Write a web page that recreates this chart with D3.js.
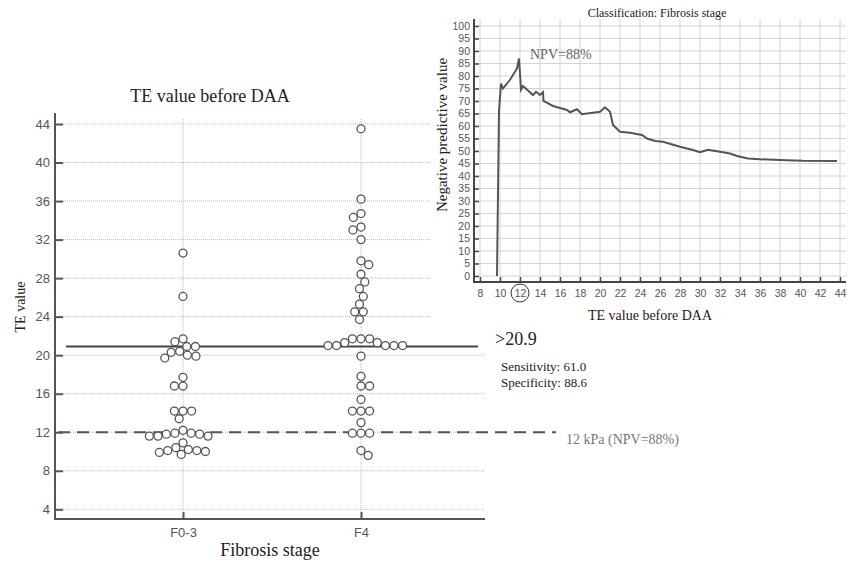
<!DOCTYPE html>
<html>
<head>
<meta charset="utf-8">
<title>TE value before DAA</title>
<script src="https://d3js.org/d3.v7.min.js"></script>
<style>
  body { margin: 0; background: #fff; }
  #chart { display: block; }
</style>
</head>
<body>
<svg id="chart"></svg>
<script>
// ---- left panel: TE values per fibrosis group (kPa) ----
const groups = ["F0-3", "F4"];
const teF03 = [30.6, 26.1, 21.7, 21.4, 20.9, 20.9, 20.4, 20.3, 20.0, 19.9, 19.7,
  17.7, 16.8, 16.8, 14.2, 14.2, 14.2, 13.4, 12.2, 11.6, 11.6, 11.6, 11.8, 11.8,
  11.9, 11.9, 10.9, 10.4, 9.7, 9.9, 10.0, 10.1, 10.1, 10.2];
const teF4 = [43.5, 36.2, 34.7, 34.3, 33.3, 33.0, 32.0, 29.8, 29.4, 28.4, 27.6,
  26.9, 26.1, 25.3, 24.5, 24.5, 23.7, 21.7, 21.7, 21.7, 21.0, 21.0, 21.0, 21.0,
  21.0, 21.3, 21.3, 19.9, 17.8, 16.8, 16.8, 15.4, 14.2, 14.2, 14.2, 13.0, 11.9,
  11.9, 11.9, 10.1, 9.6];
const yTicksLeft = [4, 8, 12, 16, 20, 24, 28, 32, 36, 40, 44];
const cutoffHigh = 20.9;
const cutoffLow = 12;

// ---- right panel: NPV by TE cut-off ----
const curveTE = [9.7, 9.9, 10.1, 10.3, 11.0, 11.7, 11.9, 12.0, 12.1, 12.3, 13.3,
  13.6, 14.0, 14.3, 14.35, 15.3, 16.7, 17.0, 17.7, 18.2, 20.0, 20.5, 21.0, 21.3,
  22.0, 23.0, 24.2, 24.7, 25.5, 26.3, 28.0, 29.3, 30.0, 30.8, 32.0, 33.0, 33.7,
  34.8, 36.0, 38.0, 40.3, 43.7];
const curveNPV = [0, 66, 77, 75, 78.5, 83, 87, 81, 74.5, 76, 72.4,
  73.7, 72.4, 73.5, 70, 68, 66.4, 65.5, 66.7, 64.7, 65.7, 67.5, 65.7, 60.4,
  57.7, 57.3, 56.4, 55, 54, 53.7, 51.7, 50.4, 49.5, 50.5, 49.7, 49, 48,
  47, 46.7, 46.4, 46.1, 46];
const xTicksRight = [8, 10, 12, 14, 16, 18, 20, 22, 24, 26, 28, 30, 32, 34, 36, 38, 40, 42, 44];
const yTicksRight = [0, 5, 10, 15, 20, 25, 30, 35, 40, 45, 50, 55, 60, 65, 70, 75, 80, 85, 90, 95, 100];

const W = 852, H = 562;
const serif = "'Liberation Serif', 'Times New Roman', serif";
const sans = "'Liberation Sans', Arial, sans-serif";
const narrow = "'Liberation Sans Narrow', 'Liberation Sans', Arial, sans-serif";

const svg = d3.select("#chart").attr("width", W).attr("height", H);
svg.append("rect").attr("width", W).attr("height", H).attr("fill", "#fff");

// ================= left panel =================
const axL = 55, axR = 485, axBottom = 519, axTop = 113;
const x = d3.scalePoint().domain(groups).range([183, 361]);
const y = d3.scaleLinear().domain([4, 44]).range([509.3, 124]);

const left = svg.append("g");

// grid
left.append("g").selectAll("line").data(yTicksLeft).join("line")
  .attr("x1", axL + 8).attr("x2", axR)
  .attr("y1", d => y(d)).attr("y2", d => y(d))
  .attr("stroke", "#bbb").attr("stroke-dasharray", "1,1");
left.append("g").selectAll("line").data(groups).join("line")
  .attr("x1", d => x(d)).attr("x2", d => x(d))
  .attr("y1", axTop + 6).attr("y2", axBottom - 7)
  .attr("stroke", "#bbb").attr("stroke-dasharray", "1,1");

// axes
const yAxisL = left.append("g").attr("transform", `translate(${axL},0)`)
  .call(d3.axisLeft(y).tickValues(yTicksLeft).tickSize(-8).tickPadding(5));
const xAxisL = left.append("g").attr("transform", `translate(0,${axBottom})`)
  .call(d3.axisBottom(x).tickSize(-7).tickPadding(9));
[yAxisL, xAxisL].forEach(a => {
  a.select(".domain").remove();
  a.selectAll(".tick line").attr("stroke", "#555").attr("stroke-width", 2);
  a.selectAll(".tick text").attr("fill", "#555").attr("font-size", 13).attr("font-family", sans);
});
left.append("path")
  .attr("d", `M${axL},${axTop}V${axBottom}H${axR}`)
  .attr("fill", "none").attr("stroke", "#555").attr("stroke-width", 2);

// cut-off lines
left.append("line")
  .attr("x1", 66).attr("x2", 478)
  .attr("y1", y(cutoffHigh)).attr("y2", y(cutoffHigh))
  .attr("stroke", "#444").attr("stroke-width", 2);
left.append("line")
  .attr("x1", 58).attr("x2", 556)
  .attr("y1", y(cutoffLow)).attr("y2", y(cutoffLow))
  .attr("stroke", "#555").attr("stroke-width", 2).attr("stroke-dasharray", "12,7");

// beeswarm (simple dodge around the group centre)
const r = 4;
function dodge(values, cx) {
  const d = 2 * r + 0.6;
  const pts = values.map(v => ({ v, y: y(v) })).sort((a, b) => a.y - b.y);
  const placed = [];
  let flip = 1;
  pts.forEach(p => {
    const near = placed.filter(q => Math.abs(q.y - p.y) < d);
    let cands = [0];
    near.forEach(q => {
      const dx = Math.sqrt(d * d - (q.y - p.y) ** 2);
      cands.push(q.dx + dx, q.dx - dx);
    });
    cands.sort((a, b) => Math.abs(a) - Math.abs(b) || (b - a) * flip);
    const ok = cands.find(c => near.every(q => (q.dx - c) ** 2 + (q.y - p.y) ** 2 >= d * d - 0.01));
    p.dx = ok;
    flip = -flip;
    placed.push(p);
  });
  return pts.map(p => ({ x: cx + p.dx, y: p.y }));
}
const dots = [
  ...dodge(teF03, x(groups[0])),
  ...dodge(teF4, x(groups[1]))
];
left.append("g").selectAll("circle").data(dots).join("circle")
  .attr("cx", d => d.x).attr("cy", d => d.y).attr("r", r)
  .attr("fill", "#fff").attr("stroke", "#555").attr("stroke-width", 1.3);

// titles
left.append("text").attr("x", 210).attr("y", 102).attr("text-anchor", "middle")
  .attr("font-family", serif).attr("font-size", 18).attr("fill", "#222")
  .text("TE value before DAA");
left.append("text").attr("x", 270).attr("y", 556).attr("text-anchor", "middle")
  .attr("font-family", serif).attr("font-size", 18).attr("fill", "#222")
  .text("Fibrosis stage");
left.append("text").attr("transform", "translate(25,307) rotate(-90)")
  .attr("text-anchor", "middle")
  .attr("font-family", serif).attr("font-size", 14).attr("fill", "#222")
  .text("TE value");

// annotations
left.append("text").attr("x", 495).attr("y", 345)
  .attr("font-family", serif).attr("font-size", 18).attr("fill", "#222").text(">20.9");
left.append("text").attr("x", 501).attr("y", 371)
  .attr("font-family", serif).attr("font-size", 13).attr("fill", "#222").text("Sensitivity: 61.0");
left.append("text").attr("x", 501).attr("y", 387)
  .attr("font-family", serif).attr("font-size", 13).attr("fill", "#222").text("Specificity: 88.6");
left.append("text").attr("x", 566).attr("y", 444)
  .attr("font-family", serif).attr("font-size", 14).attr("fill", "#777").text("12 kPa (NPV=88%)");

// ================= right panel =================
const right = svg.append("g");
right.append("rect").attr("x", 430).attr("y", 0).attr("width", W - 430).attr("height", 330)
  .attr("fill", "#fff");

const xR = d3.scaleLinear().domain([8, 44]).range([480, 840]);
const yR = d3.scaleLinear().domain([0, 100]).range([276, 26]);
const rL = 474, rR = 846, rB = 282, rT = 19;

right.append("g").selectAll("line").data(xTicksRight).join("line")
  .attr("x1", d => xR(d)).attr("x2", d => xR(d)).attr("y1", rT).attr("y2", rB)
  .attr("stroke", "#d4d4d4");
right.append("g").selectAll("line").data(yTicksRight).join("line")
  .attr("x1", rL).attr("x2", rR).attr("y1", d => yR(d)).attr("y2", d => yR(d))
  .attr("stroke", "#d4d4d4");

const yAxisR = right.append("g").attr("transform", `translate(${rL},0)`)
  .call(d3.axisLeft(yR).tickValues(yTicksRight).tickSize(-5).tickPadding(4));
const xAxisR = right.append("g").attr("transform", `translate(0,${rB})`)
  .call(d3.axisBottom(xR).tickValues(xTicksRight).tickSize(-5).tickPadding(8));
[yAxisR, xAxisR].forEach(a => {
  a.select(".domain").remove();
  a.selectAll(".tick line").attr("stroke", "#444").attr("stroke-width", 1.5);
  a.selectAll(".tick text").attr("fill", "#555").attr("font-size", 10.5).attr("font-family", narrow);
});
right.append("path")
  .attr("d", `M${rL},${rT}V${rB}H${rR}`)
  .attr("fill", "none").attr("stroke", "#444").attr("stroke-width", 2);

// circle around the 12 kPa tick label
right.append("circle").attr("cx", xR(12)).attr("cy", rB + 11).attr("r", 9)
  .attr("fill", "none").attr("stroke", "#333").attr("stroke-width", 1);

const line = d3.line().x(d => xR(d[0])).y(d => yR(d[1]));
right.append("path").datum(d3.zip(curveTE, curveNPV))
  .attr("d", line).attr("fill", "none").attr("stroke", "#555").attr("stroke-width", 2);

right.append("text").attr("x", 657).attr("y", 17).attr("text-anchor", "middle")
  .attr("font-family", serif).attr("font-size", 12).attr("fill", "#222")
  .text("Classification: Fibrosis stage");
right.append("text").attr("x", 530).attr("y", 59)
  .attr("font-family", serif).attr("font-size", 14).attr("fill", "#666").text("NPV=88%");
right.append("text").attr("transform", "translate(447,135) rotate(-90)")
  .attr("text-anchor", "middle")
  .attr("font-family", serif).attr("font-size", 15).attr("fill", "#222")
  .text("Negative predictive value");
right.append("text").attr("x", 650).attr("y", 320).attr("text-anchor", "middle")
  .attr("font-family", serif).attr("font-size", 14).attr("fill", "#222")
  .text("TE value before DAA");
</script>
</body>
</html>
